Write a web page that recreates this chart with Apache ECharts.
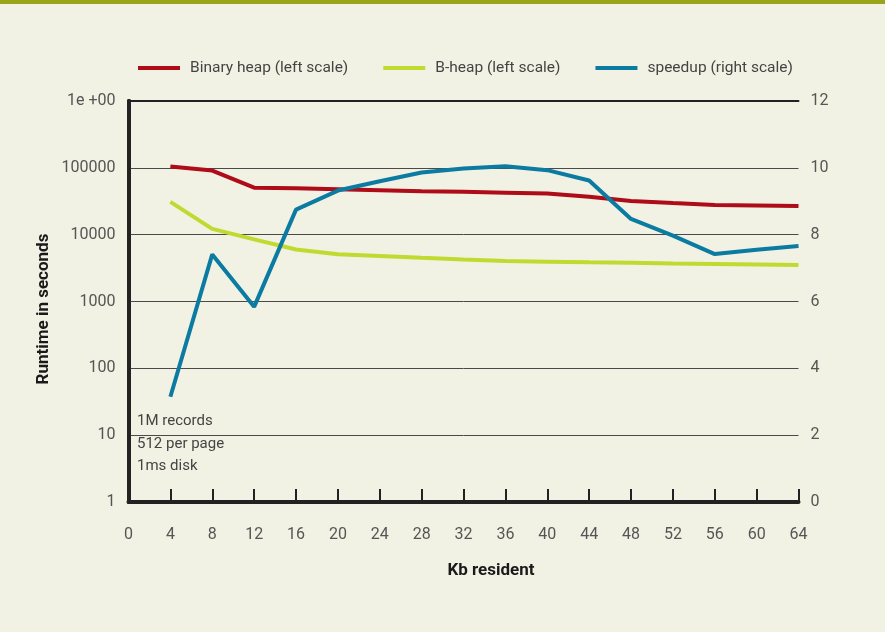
<!DOCTYPE html>
<html>
<head>
<meta charset="utf-8">
<script src="https://cdn.jsdelivr.net/npm/echarts@6/dist/echarts.min.js"></script>
<style>
html,body{margin:0;padding:0;background:#f2f2e4;}
#bar{position:absolute;left:0;top:0;width:885px;height:4px;background:#9aa41b;}
#chart{position:absolute;left:0;top:0;width:885px;height:632px;}
</style>
</head>
<body>
<div id="chart"></div>
<div id="bar"></div>
<script>
const kb = [4, 8, 12, 16, 20, 24, 28, 32, 36, 40, 44, 48, 52, 56, 60, 64];
const binaryHeap = [105000, 91000, 50500, 49300, 48000, 46200, 44500, 43700, 42500, 41200, 37000, 32000, 29800, 27800, 27300, 26800];
const bHeap = [31000, 12200, 8500, 6000, 5100, 4800, 4500, 4250, 4050, 3950, 3850, 3800, 3700, 3650, 3580, 3520];
const speedup = [3.15, 7.41, 5.84, 8.75, 9.32, 9.6, 9.86, 9.98, 10.05, 9.93, 9.62, 8.47, 7.97, 7.42, 7.55, 7.66];
const xTicks = [0, 4, 8, 12, 16, 20, 24, 28, 32, 36, 40, 44, 48, 52, 56, 60, 64];
const leftTickLabels = {1: '1', 10: '10', 100: '100', 1000: '1000', 10000: '10000', 100000: '100000', 1000000: '1e +00'};
const seriesNames = ['Binary heap (left scale)', 'B-heap (left scale)', 'speedup (right scale)'];
const notes = ['1M records', '512 per page', '1ms disk'];
const xTitle = 'Kb resident';
const yTitle = 'Runtime in seconds';

const font = 'Roboto, "Open Sans", sans-serif';
const chart = echarts.init(document.getElementById('chart'));
const pairs = (xs, ys) => xs.map((x, i) => [x, ys[i]]);

chart.setOption({
  backgroundColor: '#f2f2e4',
  animation: false,
  textStyle: {fontFamily: font},
  legend: {
    left: 133, top: 55,
    icon: 'rect', itemWidth: 42, itemHeight: 4, itemGap: 35,
    textStyle: {color: '#444', fontSize: 15.5, fontFamily: font, padding: [0, 0, 0, 5]},
    data: seriesNames
  },
  grid: {left: 128.5, right: 86.5, top: 101, bottom: 130},
  xAxis: [{
    type: 'value', min: 0, max: 64, interval: 4,
    axisLine: {show: true, lineStyle: {color: '#222', width: 4}},
    axisTick: {show: true, inside: true, length: 13, lineStyle: {color: '#222', width: 2}},
    axisLabel: {color: '#555', fontSize: 16, margin: 25, formatter: v => xTicks.includes(v) ? String(v) : ''},
    splitLine: {show: false}
  }, {
    type: 'value', min: 0, max: 64, position: 'top',
    axisLine: {show: true, lineStyle: {color: '#222', width: 2}},
    axisTick: {show: false}, axisLabel: {show: false}, splitLine: {show: false}
  }],
  yAxis: [{
    type: 'log', logBase: 10, min: 1, max: 1000000,
    axisLine: {show: true, lineStyle: {color: '#222', width: 4}},
    axisTick: {show: false},
    axisLabel: {color: '#555', fontSize: 16, margin: 13, formatter: v => leftTickLabels[Math.round(v)] || ''},
    splitLine: {show: true, lineStyle: {color: '#4a4a4a', width: 1}}
  }, {
    type: 'value', min: 0, max: 12, interval: 2, position: 'right',
    axisLine: {show: true, lineStyle: {color: '#222', width: 4}},
    axisTick: {show: false},
    axisLabel: {color: '#555', fontSize: 16, margin: 12},
    splitLine: {show: false}
  }],
  graphic: notes.map((t, i) => ({
    type: 'text', x: 137, y: 421.5 + i * 22.5,
    style: {text: t, fill: '#444', fontSize: 15, fontFamily: font, verticalAlign: 'middle'}
  })).concat([{
    type: 'text', x: 491, y: 571,
    style: {text: xTitle, fill: '#1a1a1a', fontSize: 17, fontWeight: 'bold', fontFamily: font, align: 'center', verticalAlign: 'middle'}
  }, {
    type: 'text', x: 44, y: 309, rotation: Math.PI / 2,
    style: {text: yTitle, fill: '#1a1a1a', fontSize: 17, fontWeight: 'bold', fontFamily: font, align: 'center', verticalAlign: 'middle'}
  }]),
  series: [{
    name: seriesNames[0], type: 'line', yAxisIndex: 0, showSymbol: false,
    data: pairs(kb, binaryHeap), color: '#ad0c18',
    lineStyle: {width: 4, color: '#ad0c18'}
  }, {
    name: seriesNames[1], type: 'line', yAxisIndex: 0, showSymbol: false,
    data: pairs(kb, bHeap), color: '#c2d92f',
    lineStyle: {width: 4, color: '#c2d92f'}
  }, {
    name: seriesNames[2], type: 'line', yAxisIndex: 1, showSymbol: false,
    data: pairs(kb, speedup), color: '#0b7ba2',
    lineStyle: {width: 4, color: '#0b7ba2'}
  }]
});
</script>
</body>
</html>
